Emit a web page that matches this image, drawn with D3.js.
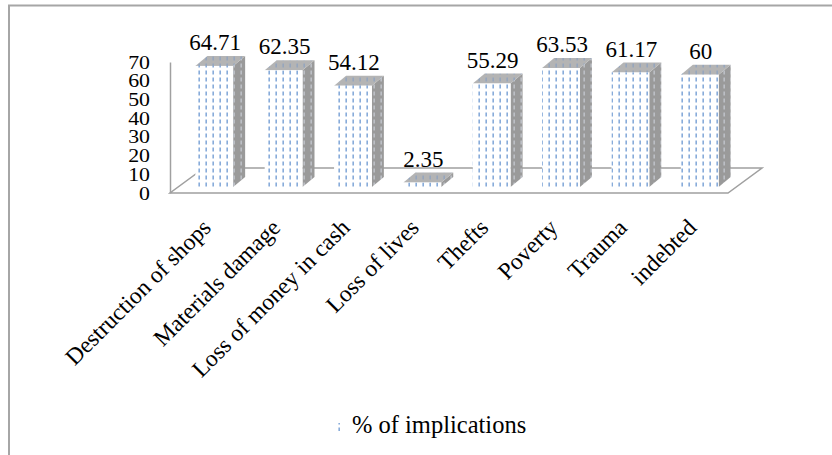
<!DOCTYPE html>
<html>
<head>
<meta charset="utf-8">
<script src="https://cdn.jsdelivr.net/npm/d3@7"></script>
<style>
  body { margin: 0; background: #fff; }
  svg { display: block; }
</style>
</head>
<body>
<div id="container"><svg></svg></div>
<script>
// data
const categories = ["Destruction of shops", "Materials damage", "Loss of money in cash", "Loss of lives",
                    "Thefts", "Poverty", "Trauma", "indebted"];
const values = [64.71, 62.35, 54.12, 2.35, 55.29, 63.53, 61.17, 60];
const valueLabels = ["64.71", "62.35", "54.12", "2.35", "55.29", "63.53", "61.17", "60"];
const yTicks = [0, 10, 20, 30, 40, 50, 60, 70];
const seriesName = "% of implications";

const width = 832, height = 455;
const serif = "'Liberation Serif', 'Times New Roman', serif";

// 3D look: floor depth and bar depth
const floorDx = 34, floorDy = -25;
const barShiftX = 8, barShiftY = -6;   // bars sit a little behind the front edge
const barDx = 12, barDy = -10;         // bar thickness

let svg = d3.select('#container').select('svg')
    .attr('width', width)
    .attr('height', height);

// patterns
let defs = svg.append("defs");
function makePattern(id, bg, dash) {
    let p = defs.append("pattern")
        .attr("id", id)
        .attr("patternUnits", "userSpaceOnUse")
        .attr("width", 7).attr("height", 7);
    p.append("rect").attr("width", 7).attr("height", 7).attr("fill", bg);
    p.append("rect").attr("x", 2.5).attr("y", 0.5).attr("width", 1.3).attr("height", 4).attr("fill", dash);
}
makePattern("patFront", "#ffffff", "#6b98d2");
makePattern("patSide", "#9a9a9a", "#c4c8d0");
makePattern("patTop", "#b4b4b4", "#8fa3c0");

// frame
svg.append("path")
    .attr("d", `M9,${height} L9,5.5 L${width},5.5`)
    .attr("fill", "none")
    .attr("stroke", "#a6a6a6")
    .attr("stroke-width", 2);

// scales
let x = d3.scaleBand()
    .domain(categories)
    .range([170, 728])
    .paddingInner(0.455)
    .paddingOuter(0.25);

let y = d3.scaleLinear()
    .domain([0, 70])
    .range([193, 62]);

// floor
let x0 = 170, x1 = 728, yf = y(0);
svg.append("path")
    .attr("d", `M${x0},${yf} L${x1},${yf} L${x1 + floorDx},${yf + floorDy} L${x0 + floorDx},${yf + floorDy} Z`)
    .attr("fill", "#fff")
    .attr("stroke", "#a0a0a0")
    .attr("stroke-width", 1.5);

// y axis
let yAxis = svg.append("g")
    .attr("transform", `translate(${x0},0)`)
    .call(d3.axisLeft(y).tickValues(yTicks).tickSize(0).tickSizeOuter(0).tickPadding(20));
yAxis.select(".domain").attr("stroke", "#a0a0a0").attr("stroke-width", 1.5);
yAxis.selectAll("text")
    .attr("font-family", serif)
    .attr("font-size", 19)
    .attr("transform", "scale(1.15,1)")
    .attr("x", -20 / 1.15)
    .attr("fill", "#000");

// bars
let bars = svg.append("g")
    .selectAll("g")
    .data(values)
    .join("g");

bars.each(function (v, i) {
    let g = d3.select(this);
    let bx = x(categories[i]) + barShiftX;
    let bw = x.bandwidth();
    let yb = y(0) + barShiftY;
    let yt = y(v) + barShiftY;
    // side
    g.append("path")
        .attr("d", `M${bx + bw},${yb} L${bx + bw + barDx},${yb + barDy} L${bx + bw + barDx},${yt + barDy} L${bx + bw},${yt} Z`)
        .attr("fill", "url(#patSide)");
    // top
    g.append("path")
        .attr("d", `M${bx},${yt} L${bx + barDx},${yt + barDy} L${bx + bw + barDx},${yt + barDy} L${bx + bw},${yt} Z`)
        .attr("fill", "url(#patTop)");
    // front
    g.append("rect")
        .attr("x", bx).attr("y", yt)
        .attr("width", bw).attr("height", yb - yt)
        .attr("fill", "url(#patFront)");
});

// value labels
svg.append("g")
    .selectAll("text")
    .data(values)
    .join("text")
    .attr("x", (d, i) => x(categories[i]) + barShiftX + x.bandwidth() / 2 + 1)
    .attr("y", d => y(d) + barShiftY + barDy - 6)
    .attr("text-anchor", "middle")
    .attr("font-family", serif)
    .attr("font-size", 23)
    .text((d, i) => valueLabels[i]);

// category labels
svg.append("g")
    .selectAll("text")
    .data(categories)
    .join("text")
    .attr("transform", d => `translate(${x(d) + barShiftX + x.bandwidth() / 2 - 2},229) rotate(-45)`)
    .attr("text-anchor", "end")
    .attr("font-family", serif)
    .attr("font-size", 23.5)
    .text(d => d);

// legend
svg.append("rect")
    .attr("x", 335).attr("y", 423)
    .attr("width", 6).attr("height", 8)
    .attr("fill", "url(#patFront)");
svg.append("text")
    .attr("x", 352).attr("y", 433)
    .attr("font-family", serif)
    .attr("font-size", 24.5)
    .text(seriesName);
</script>
</body>
</html>
